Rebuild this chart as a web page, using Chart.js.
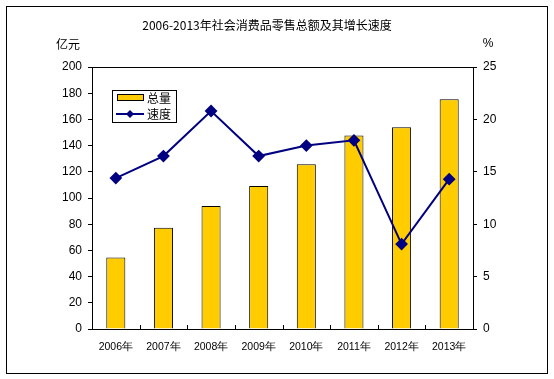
<!DOCTYPE html>
<html>
<head>
<meta charset="utf-8">
<script src="https://cdn.jsdelivr.net/npm/chart.js@4"></script>
<style>
  body { margin: 0; background: #fff; }
  #wrap { width: 554px; height: 379px; }
</style>
</head>
<body>
<div id="wrap"><canvas id="c" width="554" height="379"></canvas></div>
<script>
const years = ['2006年', '2007年', '2008年', '2009年', '2010年', '2011年', '2012年', '2013年'];
const total = [54.5, 77.2, 93.8, 109.2, 125.8, 147.8, 154.0, 175.4];
const speed = [14.4, 16.5, 20.8, 16.5, 17.5, 18.0, 8.1, 14.3];
const leftTicks = [0, 20, 40, 60, 80, 100, 120, 140, 160, 180, 200];
const rightTicks = [0, 5, 10, 15, 20, 25];

const cjk = '"Noto Sans CJK SC", sans-serif';
const latin = '"Liberation Sans", Arial, sans-serif';

// frame, title, units, legend and inner x ticks
const decor = {
    id: 'decor',
    afterDraw(chart) {
        const ctx = chart.ctx, a = chart.chartArea, x = chart.scales.x;
        ctx.save();
        ctx.strokeStyle = '#000';
        ctx.lineWidth = 1;
        ctx.strokeRect(6.5, 6.5, 541, 367);
        ctx.strokeRect(Math.round(a.left) + 0.5, Math.round(a.top) + 0.5, Math.round(a.right - a.left), Math.round(a.bottom - a.top));

        // x ticks between categories, pointing up
        for (let i = 0; i <= years.length; i++) {
            const px = Math.round(x.getPixelForValue(i - 0.5)) + 0.5;
            ctx.beginPath(); ctx.moveTo(px, a.bottom); ctx.lineTo(px, a.bottom - 4); ctx.stroke();
        }

        ctx.fillStyle = '#000';
        ctx.textBaseline = 'middle';
        ctx.textAlign = 'center';
        ctx.font = '12px ' + cjk;
        ctx.fillText('2006-2013年社会消费品零售总额及其增长速度', 267, 25);
        ctx.fillText('亿元', 68, 44);
        ctx.font = '12px ' + latin;
        ctx.fillText('%', 488, 44);

        // legend
        const bar = chart.data.datasets[0], line = chart.data.datasets[1];
        ctx.fillStyle = '#fff';
        ctx.fillRect(112, 90, 64, 33);
        ctx.strokeRect(112.5, 90.5, 64, 32);
        ctx.fillStyle = bar.backgroundColor;
        ctx.fillRect(117, 94, 26, 7);
        ctx.strokeRect(117.5, 94.5, 26, 6);
        ctx.strokeStyle = line.borderColor;
        ctx.lineWidth = 2;
        ctx.beginPath(); ctx.moveTo(116, 114); ctx.lineTo(144, 114); ctx.stroke();
        ctx.fillStyle = line.borderColor;
        ctx.beginPath();
        ctx.moveTo(130, 110); ctx.lineTo(134, 114); ctx.lineTo(130, 118); ctx.lineTo(126, 114);
        ctx.closePath(); ctx.fill();
        ctx.fillStyle = '#000';
        ctx.textAlign = 'left';
        ctx.font = '12px ' + cjk;
        ctx.fillText(bar.label, 147, 98);
        ctx.fillText(line.label, 147, 114);
        ctx.restore();
    }
};

new Chart(document.getElementById('c'), {
    data: {
        labels: years,
        datasets: [
            {
                type: 'bar', label: '总量', data: total, yAxisID: 'y',
                backgroundColor: '#FFCC00', borderColor: '#000', borderWidth: 1,
                barPercentage: 0.4, categoryPercentage: 1, order: 1
            },
            {
                type: 'line', label: '速度', data: speed, yAxisID: 'y2',
                borderColor: '#000080', backgroundColor: '#000080', borderWidth: 2,
                pointStyle: 'rectRot', pointRadius: 5, pointBackgroundColor: '#000080',
                tension: 0, order: 0
            }
        ]
    },
    options: {
        responsive: false,
        animation: false,
        layout: { padding: { top: 67, left: 0, right: 0, bottom: 0 } },
        plugins: { legend: { display: false }, tooltip: { enabled: false } },
        scales: {
            x: {
                offset: true,
                grid: { display: false },
                border: { display: false },
                ticks: { color: '#000', font: { family: latin, size: 10.5 }, padding: 4, maxRotation: 0 },
                afterFit(s) { s.height = 50; }
            },
            y: {
                position: 'left', min: 0, max: 200,
                afterBuildTicks(s) { s.ticks = leftTicks.map(v => ({ value: v })); },
                grid: { drawOnChartArea: false, color: '#000', tickLength: 4 },
                border: { display: true, color: '#000' },
                ticks: { color: '#000', font: { family: latin, size: 12 }, padding: 6 },
                afterFit(s) { s.width = 92; }
            },
            y2: {
                position: 'right', min: 0, max: 25,
                afterBuildTicks(s) { s.ticks = rightTicks.map(v => ({ value: v })); },
                grid: { drawOnChartArea: false, color: '#000', tickLength: 4 },
                border: { display: true, color: '#000' },
                ticks: { color: '#000', font: { family: latin, size: 12 }, padding: 6 },
                afterFit(s) { s.width = 81; }
            }
        }
    },
    plugins: [decor]
});
</script>
</body>
</html>
